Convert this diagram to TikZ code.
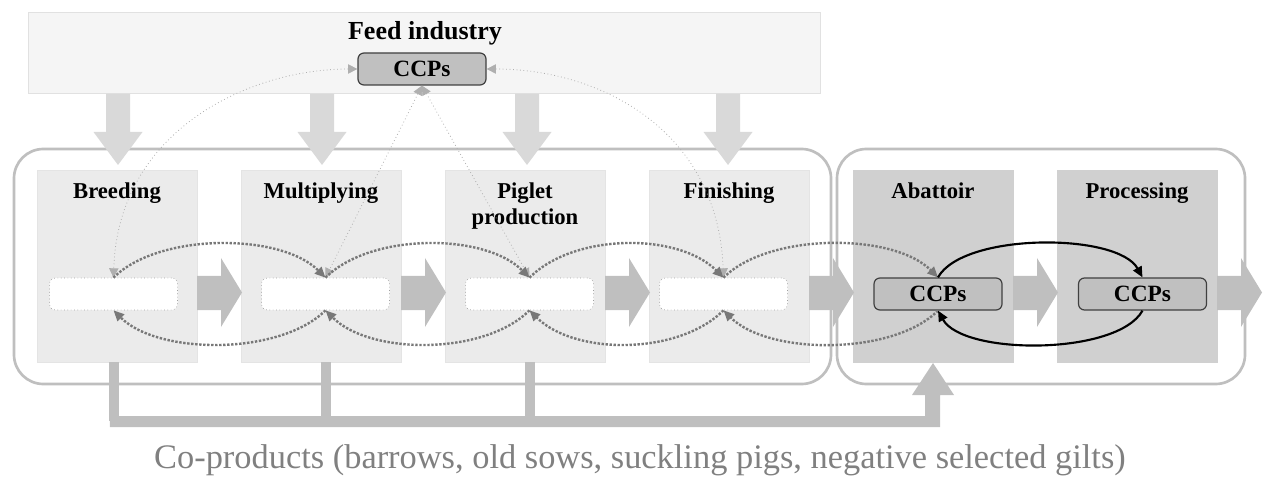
\documentclass[tikz,border=0pt]{standalone}
\usepackage{fontspec}
\setmainfont{Liberation Serif}
\usepackage{tikz}
\usetikzlibrary{arrows.meta}

\begin{document}
\begin{tikzpicture}[x=0.75pt,y=0.75pt,yscale=-1,xscale=1,
	stage/.style={draw={rgb, 255:red, 228; green, 228; blue, 228 }, fill={rgb, 255:red, 235; green, 235; blue, 235 }, minimum width=120pt, minimum height=144pt, inner sep=0pt},
	plant/.style={stage, draw={rgb, 255:red, 208; green, 208; blue, 208 }, fill={rgb, 255:red, 208; green, 208; blue, 208 }},
	stagetext/.style={font=\bfseries\fontsize{17}{19.5}\selectfont, align=center, inner sep=0pt},
	hold/.style={draw={rgb, 255:red, 160; green, 160; blue, 160 }, dotted, line width=0.5pt, fill=white, rounded corners=4.5pt, minimum width=96pt, minimum height=24pt, inner sep=0pt},
	ccp/.style={hold, solid, draw={rgb, 255:red, 64; green, 64; blue, 64 }, line width=0.9pt, fill={rgb, 255:red, 192; green, 192; blue, 192 }, font=\bfseries\fontsize{17.5}{19.5}\selectfont},
	chain/.style={draw={rgb, 255:red, 191; green, 191; blue, 191 }, line width=2pt, rounded corners=22pt},
	flowdot/.style={draw={rgb, 255:red, 120; green, 120; blue, 120 }, line width=1.8pt, dash pattern={on 1.8pt off 1.2pt}, -{Triangle[length=8pt,width=7pt]}},
	flowccp/.style={draw=black, line width=1.6pt, -{Triangle[length=8pt,width=7pt]}},
	feedlink/.style={draw={rgb, 255:red, 175; green, 175; blue, 175 }, line width=0.6pt, dotted, {Triangle[length=7pt,width=7pt]}-{Triangle[length=7pt,width=7pt]}},
	coprod/.style={draw={rgb, 255:red, 191; green, 191; blue, 191 }, line width=7.5pt}
	]
	\useasboundingbox (0,0) rectangle (1263,488);
	
	%Shape: Rectangle (feed industry)
	\node [draw={rgb, 255:red, 225; green, 225; blue, 225 }, fill={rgb, 255:red, 245; green, 245; blue, 245 }, minimum width=594pt, minimum height=61pt, inner sep=0pt] (feed) at (424,52.5) {};
	\node [stagetext, font=\bfseries\fontsize{19.5}{22}\selectfont] (feedtext) at (425,33) {Feed industry};
	\node [ccp] (feedccp) at (422,69) {CCPs};
	
	%Shape: Rounded Rectangles (farm chain, slaughter chain)
	\draw [chain] (14,149) rectangle (831,384);
	\draw [chain] (837,149) rectangle (1245,384);
	
	%Shape: Rectangles (stages)
	\node [stage] (breed) at (117,266) {};
	\node [stage] (multi) at (321,266) {};
	\node [stage] (piglet) at (525,266) {};
	\node [stage] (finish) at (729,266) {};
	\node [plant] (abatt) at (933,266) {};
	\node [plant] (proc) at (1137,266) {};
	
	\node [stagetext, anchor=base] (breedtext) at (117,199) {Breeding};
	\node [stagetext, anchor=base] (multitext) at (321,199) {Multiplying};
	\node [stagetext] (piglettext) at (525,206) {Piglet\\production};
	\node [stagetext, anchor=base] (finishtext) at (729,199) {Finishing};
	\node [stagetext, anchor=base] (abatttext) at (933,199) {Abattoir};
	\node [stagetext, anchor=base] (proctext) at (1137,199) {Processing};
	
	%Right Arrows
	\foreach \xa in {197,401,605,809,1013,1217} {
		\fill [fill={rgb, 255:red, 191; green, 191; blue, 191 }] (\xa,276) -- (\xa+24,276) -- (\xa+24,258) -- (\xa+45,292.5) -- (\xa+24,327) -- (\xa+24,310) -- (\xa,310) -- cycle ;
	}
	
	%Down Arrows (feed)
	\foreach \cx in {118,322,527,728} {
		\fill [fill={rgb, 255:red, 217; green, 217; blue, 217 }] (\cx-12,94) -- (\cx-12,132) -- (\cx-24.5,132) -- (\cx,165) -- (\cx+24.5,132) -- (\cx+12,132) -- (\cx+12,94) -- cycle ;
	}
	
	%Inner boxes
	\node [hold] (breedbox) at (113.5,294) {};
	\node [hold] (multibox) at (325.5,294) {};
	\node [hold] (pigletbox) at (529.5,294) {};
	\node [hold] (finishbox) at (723.5,294) {};
	\node [ccp] (abattccp) at (938,294) {CCPs};
	\node [ccp] (procccp) at (1142.5,294) {CCPs};
	
	%Co-products
	\draw [coprod] (breedbox |- breed.south) -- (breedbox.south |- 0,421);
	\draw [coprod] (multibox |- multi.south) -- (multibox.south |- 0,421);
	\draw [coprod] (pigletbox |- piglet.south) -- (pigletbox.south |- 0,421);
	\fill [fill={rgb, 255:red, 191; green, 191; blue, 191 }] (109.75,416) -- (925,416) -- (925,395) -- (912,395) -- (933,363) -- (954,395) -- (940,395) -- (940,427) -- (109.75,427) -- cycle ;
	\node [text={rgb, 255:red, 128; green, 128; blue, 128 }, font=\fontsize{25.8}{29}\selectfont, inner sep=0pt] (coprodtext) at (640,460) {Co-products (barrows, old sows, suckling pigs, negative selected gilts)};
	
	%Curves (feed CCPs)
	\draw [feedlink] (feedccp.west) .. controls (250,69) and (118,130) .. (breedbox.north);
	\draw [feedlink] (feedccp.south) -- (multibox.north);
	\draw [feedlink] (feedccp.south) -- (pigletbox.north);
	\draw [feedlink] (feedccp.east) .. controls (600,69) and (718,130) .. (finishbox.north);
	
	%Curves (forward, over the boxes)
	\draw [flowdot] (breedbox.north) .. controls +(45,-45) and +(-45,-45) .. (multibox.north);
	\draw [flowdot] (multibox.north) .. controls +(45,-45) and +(-45,-45) .. (pigletbox.north);
	\draw [flowdot] (pigletbox.north) .. controls +(45,-45) and +(-45,-45) .. (finishbox.north);
	\draw [flowdot] (finishbox.north) .. controls +(45,-45) and +(-45,-45) .. (abattccp.north);
	
	%Curves (back, under the boxes)
	\draw [flowdot] (abattccp.south) .. controls +(-45,45) and +(45,45) .. (finishbox.south);
	\draw [flowdot] (finishbox.south) .. controls +(-45,45) and +(45,45) .. (pigletbox.south);
	\draw [flowdot] (pigletbox.south) .. controls +(-45,45) and +(45,45) .. (multibox.south);
	\draw [flowdot] (multibox.south) .. controls +(-45,45) and +(45,45) .. (breedbox.south);
	
	%Curves (abattoir <-> processing)
	\draw [flowccp] (abattccp.north) .. controls +(25,-45) and +(-25,-45) .. (procccp.north);
	\draw [flowccp] (procccp.south) .. controls +(-25,45) and +(25,45) .. (abattccp.south);
	
\end{tikzpicture}
\end{document}
